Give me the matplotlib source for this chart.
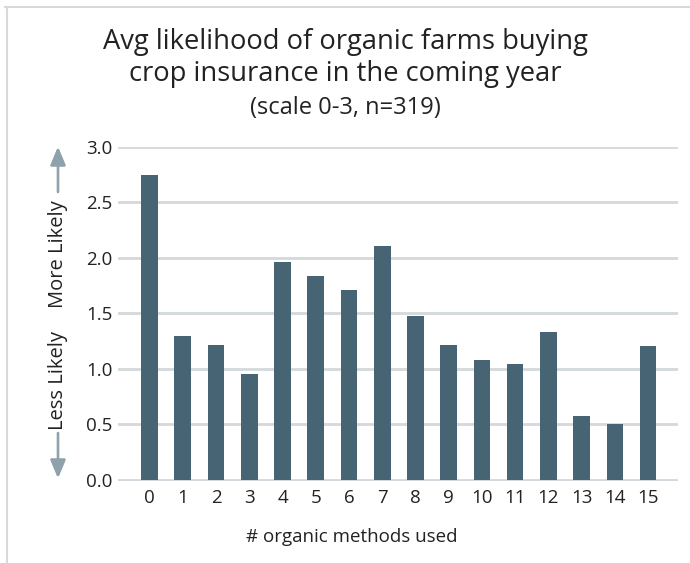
import matplotlib.pyplot as plt
import numpy as np
from matplotlib.lines import Line2D

plt.rcParams['font.family'] = ['Open Sans', 'DejaVu Sans']

methods = [str(i) for i in range(16)]
likelihood = [2.75, 1.30, 1.22, 0.95, 1.96, 1.84, 1.71, 2.11,
              1.48, 1.22, 1.08, 1.04, 1.33, 0.58, 0.50, 1.21]
yticks = [0.0, 0.5, 1.0, 1.5, 2.0, 2.5, 3.0]

bar_color = '#476475'
grid_color = '#d3d9dc'
arrow_color = '#8fa1aa'
text_color = '#222222'

fig = plt.figure(figsize=(6.9, 5.63), dpi=100)
ax = fig.add_axes([118 / 690, 1 - 481 / 563, (678 - 118) / 690, (481 - 147) / 563])

x = np.arange(len(methods))
ax.bar(x, likelihood, width=0.5, color=bar_color, zorder=3)

ax.set_xlim(-0.95, 15.9)
ax.set_yticks(yticks)
ax.set_yticklabels([f'{v:.1f}' for v in yticks])
ax.set_xticks(x)
ax.set_xticklabels(methods)
ax.tick_params(axis='both', length=0, labelsize=13.5, colors=text_color)
ax.tick_params(axis='y', pad=4)
ax.tick_params(axis='x', pad=6)
ax.yaxis.grid(True, color=grid_color, linewidth=2, zorder=0)
ax.set_axisbelow(True)
for s in ax.spines.values():
    s.set_visible(False)
ax.set_ylim(-0.01, 3.0)

# x label sits left of the axes centre in the original
fig.text(352 / 690, 1 - 537 / 563, '# organic methods used', ha='center', va='center',
         fontsize=13.5, color=text_color)

# title
fig.text(0.5, 1 - 42 / 563, 'Avg likelihood of organic farms buying', ha='center', va='center',
         fontsize=19.7, color=text_color)
fig.text(0.5, 1 - 74 / 563, 'crop insurance in the coming year', ha='center', va='center',
         fontsize=19.7, color=text_color)
fig.text(0.5, 1 - 108 / 563, '(scale 0-3, n=319)', ha='center', va='center',
         fontsize=17, color=text_color)

# y-axis direction labels with arrows
ax_x = 58 / 690
fig.text(ax_x, 1 - 254 / 563, 'More Likely', rotation=90, ha='center', va='center',
         fontsize=14.5, color=text_color)
fig.text(ax_x, 1 - 380 / 563, 'Less Likely', rotation=90, ha='center', va='center',
         fontsize=14.5, color=text_color)
arrow_style = dict(arrowstyle='-|>,head_length=0.55,head_width=0.23', color=arrow_color,
                   lw=1.7, mutation_scale=20, shrinkA=0, shrinkB=0)
fig.add_artist(plt.annotate('', xy=(ax_x, 1 - 147 / 563), xytext=(ax_x, 1 - 192 / 563),
                            xycoords='figure fraction', textcoords='figure fraction',
                            arrowprops=arrow_style))
fig.add_artist(plt.annotate('', xy=(ax_x, 1 - 478 / 563), xytext=(ax_x, 1 - 433 / 563),
                            xycoords='figure fraction', textcoords='figure fraction',
                            arrowprops=arrow_style))

# frame lines at top and left
fig.add_artist(Line2D([5 / 690, 1], [1 - 7 / 563] * 2, color='#d5dadd', lw=1.5))
fig.add_artist(Line2D([7 / 690] * 2, [0, 1 - 7 / 563], color='#d5dadd', lw=1.5))

fig.savefig('out.png', dpi=100)
